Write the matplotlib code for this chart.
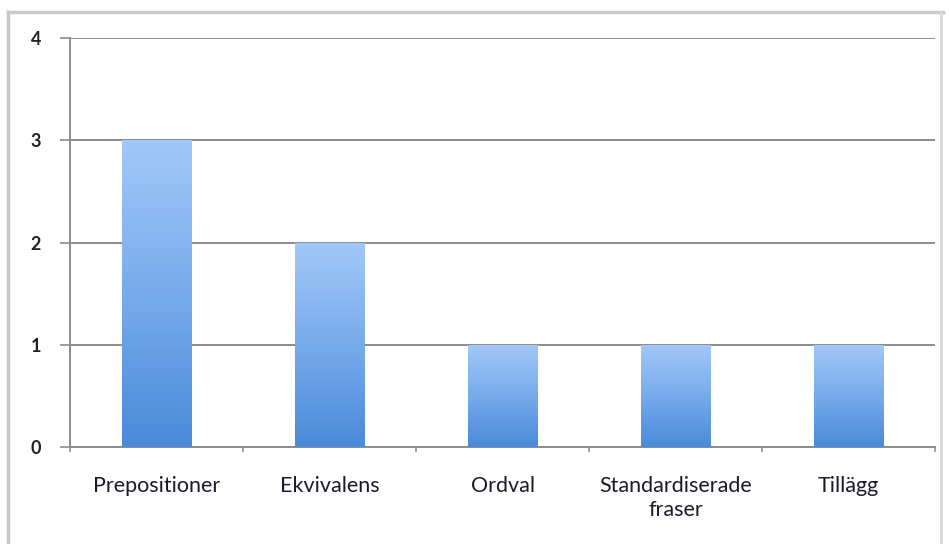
import numpy as np
import matplotlib
matplotlib.use("Agg")
import matplotlib.pyplot as plt
import matplotlib.transforms as mtransforms
from matplotlib.colors import LinearSegmentedColormap
from matplotlib.lines import Line2D

categories = ["Prepositioner", "Ekvivalens", "Ordval", "Standardiserade\nfraser", "Tillägg"]
counts = [3, 2, 1, 1, 1]
yticks = [0, 1, 2, 3, 4]

plt.rcParams["font.family"] = ["Lato", "DejaVu Sans"]

fig = plt.figure(figsize=(9.49, 5.44), dpi=100)
ax = fig.add_axes([70 / 949, 1 - 447 / 544, 865 / 949, (447 - 38) / 544])

x = np.arange(len(categories))
bar_w = 0.4
bars = ax.bar(x, counts, width=bar_w, color="none", edgecolor="none", zorder=3)

# vertical gradient fill for each bar
cmap = LinearSegmentedColormap.from_list("barblue", ["#4a8ad9", "#78abec", "#a2c8f8"])
grad = np.linspace(0, 1, 256).reshape(-1, 1)
for b in bars:
    x0, y0 = b.get_x(), b.get_y()
    w, h = b.get_width(), b.get_height()
    im = ax.imshow(grad, cmap=cmap, origin="lower", aspect="auto",
                   extent=(x0, x0 + w, y0, y0 + h), zorder=3, interpolation="bicubic")
    im.set_clip_path(b)

ax.set_xlim(-0.5, len(categories) - 0.5)
ax.set_ylim(0, 4)
ax.set_yticks(yticks)
ax.set_yticklabels([str(t) for t in yticks], fontsize=13, fontweight="bold", color="#222222",
                   va="top")
ax.yaxis.grid(True, color="#8c8c8c", linewidth=1.4, zorder=1)
ax.set_axisbelow(True)

ax.set_xticks(x)
ax.set_xticklabels(categories, fontsize=15.5, color="#1a1a2e", linespacing=1.25)
ax.tick_params(axis="x", length=0, pad=21)
ax.tick_params(axis="y", length=7, width=1.2, color="#8c8c8c", pad=14)
# category boundary ticks along the base line
for b in np.arange(-0.5, len(categories) + 0.5, 1.0):
    ax.plot([b, b], [0, -0.04], color="#8c8c8c", lw=1.2, clip_on=False, zorder=2)

for side in ("top", "right"):
    ax.spines[side].set_visible(False)
for side in ("left", "bottom"):
    ax.spines[side].set_color("#8c8c8c")
    ax.spines[side].set_linewidth(1.4)

# y tick labels sit just below their grid lines
offset = mtransforms.ScaledTranslation(0, 7 / 100, fig.dpi_scale_trans)
for lbl in ax.get_yticklabels():
    lbl.set_transform(lbl.get_transform() + offset)

# chart area frame
fig.add_artist(Line2D([8 / 949, 8 / 949], [0, 1 - 12 / 544], color="#c8c8c8", lw=2.5, transform=fig.transFigure))
fig.add_artist(Line2D([8 / 949, 943 / 949], [1 - 12 / 544, 1 - 12 / 544], color="#c8c8c8", lw=2.5, transform=fig.transFigure))
fig.add_artist(Line2D([941 / 949, 941 / 949], [0, 1 - 12 / 544], color="#d8d8d8", lw=2.0, transform=fig.transFigure))

fig.savefig("out.png", dpi=100)
